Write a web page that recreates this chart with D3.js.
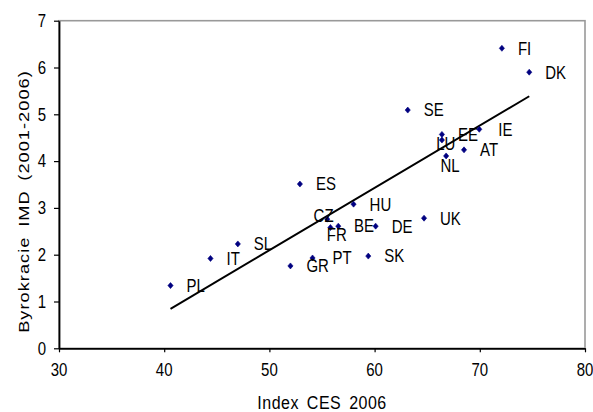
<!DOCTYPE html>
<html><head><meta charset="utf-8">
<script src="https://cdn.jsdelivr.net/npm/d3@7/dist/d3.min.js"></script>
<style>
body{margin:0;background:#fff}
text{font-family:Arial,"Liberation Sans",Helvetica,sans-serif;fill:#000}
</style>
</head><body>
<svg id="chart" width="593" height="412"></svg>
<script>
// ---- data ----
const countries = ["PL","IT","SL","GR","PT","CZ","FR","BE","HU","DE","SK","UK","ES","SE","EE","LU","NL","FI","DK","IE","AT"];
const cesIndex  = [40.6,44.4,47.0,52.0,54.1,55.5,55.8,56.55,58.0,60.1,59.4,64.7,52.9,63.15,66.4,66.4,66.8,72.1,74.7,69.95,68.5];
const imdBureaucracy = [1.34,1.92,2.23,1.76,1.93,2.76,2.58,2.61,3.08,2.61,1.97,2.78,3.51,5.09,4.57,4.45,4.11,6.41,5.90,4.68,4.24];
const xTicks = [30,40,50,60,70,80];
const yTicks = [0,1,2,3,4,5,6,7];
const xTitle = "Index CES 2006";
const yTitle = "Byrokracie IMD (2001-2006)";

// label placement (layout, not data)
const defaultOffset = [16, 0];
const labelOffsets = {CZ:[-13.7,-3.6], FR:[-3.6,7.3], LU:[-5.7,3.3], NL:[-5.7,9.7], PT:[20,-0.7], IE:[19,0], BE:[15.7,-0.7]};

// ---- layout ----
const L = 59, R = 585, T = 20.7, B = 348.3;
const SY = 1.18;
const svg = d3.select("#chart");
const x = d3.scaleLinear().domain([30,80]).range([L,R]);
const y = d3.scaleLinear().domain([0,7]).range([B,T]);

// plot frame (grey top/right)
svg.append("rect").attr("x",L).attr("y",T).attr("width",R-L).attr("height",B-T)
  .attr("fill","none").attr("stroke","#999").attr("stroke-width",1.6);

// axes
const gx = svg.append("g").attr("transform",`translate(0,${B})`)
  .call(d3.axisBottom(x).tickValues(xTicks).tickSize(4).tickSizeOuter(0).tickFormat(""));
const gy = svg.append("g").attr("transform",`translate(${L},0)`)
  .call(d3.axisLeft(y).tickValues(yTicks).tickSize(5).tickSizeOuter(0).tickFormat(""));
[gx,gy].forEach(g=>{
  g.select(".domain").attr("stroke","#000").attr("stroke-width",1.8);
  g.selectAll(".tick line").attr("stroke","#000").attr("stroke-width",1.2);
});

// tick labels
svg.append("g").selectAll("text").data(xTicks).join("text")
  .attr("transform",d=>`translate(${x(d)},375.6) scale(1,${SY})`)
  .attr("text-anchor","middle").attr("font-size",15).text(d=>d);
svg.append("g").selectAll("text").data(yTicks).join("text")
  .attr("transform",d=>`translate(46,${y(d)}) scale(1,${SY})`)
  .attr("text-anchor","end").attr("dy","0.36em").attr("font-size",15).text(d=>d);

// axis titles
svg.append("text")
  .attr("transform",`translate(${(L+R)/2},409.3) scale(1,1.1)`)
  .attr("text-anchor","middle").attr("font-size",16)
  .attr("letter-spacing",0.5).attr("word-spacing",3).text(xTitle);
svg.append("text")
  .attr("transform",`translate(29,201.5) rotate(-90) scale(${SY},1)`)
  .attr("text-anchor","middle").attr("font-size",15.4)
  .attr("letter-spacing",0.9).attr("word-spacing",3).text(yTitle);

// linear trend (least squares)
const n = cesIndex.length;
const mx = d3.mean(cesIndex), my = d3.mean(imdBureaucracy);
let sxy=0, sxx=0;
for(let i=0;i<n;i++){ sxy+=(cesIndex[i]-mx)*(imdBureaucracy[i]-my); sxx+=(cesIndex[i]-mx)**2; }
const slope = sxy/sxx, icpt = my - slope*mx;
const [x0,x1] = d3.extent(cesIndex);
svg.append("line")
  .attr("x1",x(x0)).attr("y1",y(icpt+slope*x0))
  .attr("x2",x(x1)).attr("y2",y(icpt+slope*x1))
  .attr("stroke","#000").attr("stroke-width",2);

// points
const pts = countries.map((c,i)=>({c, vx:cesIndex[i], vy:imdBureaucracy[i]}));
svg.append("g").selectAll("path").data(pts).join("path")
  .attr("transform",d=>`translate(${x(d.vx)},${y(d.vy)})`)
  .attr("d","M0,-3L2.6,0L0,3L-2.6,0Z")
  .attr("fill","#000080").attr("stroke","#000080").attr("stroke-width",0.6);

// labels
svg.append("g").selectAll("text").data(pts).join("text")
  .attr("transform",d=>{const o=labelOffsets[d.c]||defaultOffset;
     return `translate(${x(d.vx)+o[0]},${y(d.vy)+o[1]}) scale(1,${SY})`;})
  .attr("dy","0.36em").attr("font-size",15).text(d=>d.c);
</script>
</body></html>
